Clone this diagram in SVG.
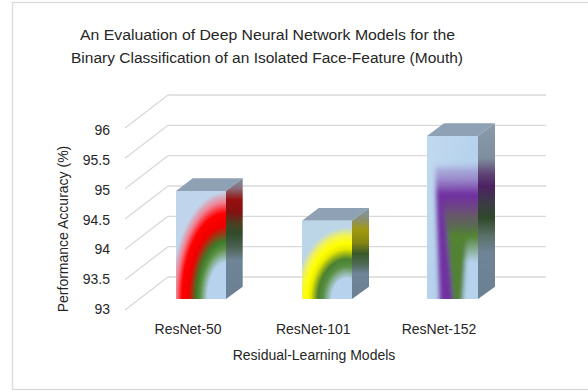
<svg xmlns="http://www.w3.org/2000/svg" width="588" height="391" viewBox="0 0 588 391">
<defs>
<style>
text{font-family:"Liberation Sans",Arial,sans-serif;fill:#262626}
.tick{font-size:14px;text-anchor:end}
.cat{font-size:14px;text-anchor:middle}
.grid line{stroke:#d9d9d9;stroke-width:1.3}
.top{fill:#8fa2b5}
</style>
<linearGradient id="frontBase" x1="0" y1="0" x2="1" y2="1">
<stop offset="0" stop-color="#c2daf0"/><stop offset="0.5" stop-color="#b6d2ec"/><stop offset="1" stop-color="#b3cfe9"/>
</linearGradient>
<radialGradient id="g1" gradientUnits="userSpaceOnUse" cx="226" cy="299" r="55" gradientTransform="translate(226 299) scale(1 1.95) translate(-226 -299)">
<stop offset="0" stop-color="#b6d2ec"/><stop offset="0.34" stop-color="#b6d2ec"/>
<stop offset="0.47" stop-color="#5a9040"/><stop offset="0.54" stop-color="#3d7a2a"/>
<stop offset="0.68" stop-color="#f00000"/><stop offset="0.8" stop-color="#ff0000"/>
<stop offset="0.9" stop-color="#f08090"/>
<stop offset="1.0" stop-color="#c0d4ec"/>
</radialGradient>
<radialGradient id="g2" gradientUnits="userSpaceOnUse" cx="347" cy="300" r="52" gradientTransform="translate(347 300) scale(1 1.4) translate(-347 -300)">
<stop offset="0" stop-color="#b6d2ec"/><stop offset="0.3" stop-color="#b6d2ec"/>
<stop offset="0.46" stop-color="#5a9045"/><stop offset="0.56" stop-color="#4a8030"/>
<stop offset="0.7" stop-color="#e8ea00"/><stop offset="0.78" stop-color="#ffff00"/>
<stop offset="0.88" stop-color="#f4f450"/>
<stop offset="1" stop-color="#bcd6e8"/>
</radialGradient>
<linearGradient id="s1" gradientUnits="userSpaceOnUse" x1="0" y1="178" x2="0" y2="299">
<stop offset="0" stop-color="#7f92a4"/><stop offset="0.08" stop-color="#86727e"/>
<stop offset="0.18" stop-color="#981010"/><stop offset="0.28" stop-color="#851010"/>
<stop offset="0.38" stop-color="#4a4020"/><stop offset="0.46" stop-color="#304c2a"/>
<stop offset="0.57" stop-color="#4a6250"/><stop offset="0.68" stop-color="#6f8597"/>
<stop offset="1" stop-color="#6b8193"/>
</linearGradient>
<linearGradient id="s2" gradientUnits="userSpaceOnUse" x1="0" y1="208" x2="0" y2="299">
<stop offset="0" stop-color="#8196a8"/><stop offset="0.12" stop-color="#8a8f74"/>
<stop offset="0.24" stop-color="#a09a10"/><stop offset="0.38" stop-color="#858510"/>
<stop offset="0.5" stop-color="#3a5a2a"/><stop offset="0.62" stop-color="#4e6a56"/>
<stop offset="0.72" stop-color="#6f8597"/><stop offset="1" stop-color="#6b8193"/>
</linearGradient>
<linearGradient id="s3" gradientUnits="userSpaceOnUse" x1="0" y1="123" x2="0" y2="299">
<stop offset="0" stop-color="#8a9bab"/><stop offset="0.2" stop-color="#7f8e9e"/>
<stop offset="0.29" stop-color="#5e4274"/><stop offset="0.36" stop-color="#4c2262"/>
<stop offset="0.45" stop-color="#3c3a48"/><stop offset="0.54" stop-color="#30482a"/>
<stop offset="0.64" stop-color="#5a7068"/><stop offset="0.74" stop-color="#6f8597"/>
<stop offset="1" stop-color="#6b8193"/>
</linearGradient>
<linearGradient id="p3" gradientUnits="userSpaceOnUse" x1="0" y1="164" x2="0" y2="194">
<stop offset="0" stop-color="#7030a0" stop-opacity="0"/><stop offset="0.4" stop-color="#9070c0" stop-opacity="0.6"/><stop offset="1" stop-color="#7030a0"/>
</linearGradient>
<linearGradient id="m3" gradientUnits="userSpaceOnUse" x1="0" y1="196" x2="0" y2="232">
<stop offset="0" stop-color="#6a5570" stop-opacity="0"/><stop offset="0.5" stop-color="#6a5a68" stop-opacity="0.85"/><stop offset="1" stop-color="#5a7040" stop-opacity="0"/>
</linearGradient>
<linearGradient id="gr3" gradientUnits="userSpaceOnUse" x1="0" y1="212" x2="0" y2="234">
<stop offset="0" stop-color="#528232" stop-opacity="0"/><stop offset="1" stop-color="#528232"/>
</linearGradient>
<linearGradient id="lb3" gradientUnits="userSpaceOnUse" x1="0" y1="236" x2="0" y2="262">
<stop offset="0" stop-color="#b6d2ec" stop-opacity="0"/><stop offset="1" stop-color="#b6d2ec"/>
</linearGradient>
<clipPath id="c3"><rect x="427" y="136" width="51" height="163"/></clipPath>
<filter id="soft3" x="-20%" y="-20%" width="140%" height="140%">
<feGaussianBlur stdDeviation="2"/>
</filter>
</defs>
<rect x="0" y="0" width="588" height="391" fill="#ffffff"/>
<rect x="12.5" y="2.5" width="600" height="387" fill="#ffffff" stroke="#d9d9d9" stroke-width="1.3"/>
<g id="title">
<text x="267.5" y="40" font-size="15.5" text-anchor="middle" textLength="375" lengthAdjust="spacingAndGlyphs">An Evaluation of Deep Neural Network Models for the</text>
<text x="267" y="63" font-size="15.5" text-anchor="middle" textLength="392" lengthAdjust="spacingAndGlyphs">Binary Classification of an Isolated Face-Feature (Mouth)</text>
</g>
<g id="connectors" class="grid">
<line x1="168" y1="95" x2="546" y2="95"/>
<line x1="168" y1="125.3" x2="546" y2="125.3"/>
<line x1="168" y1="155.7" x2="546" y2="155.7"/>
<line x1="168" y1="186" x2="546" y2="186"/>
<line x1="168" y1="216.3" x2="546" y2="216.3"/>
<line x1="168" y1="246.7" x2="546" y2="246.7"/>
<line x1="168" y1="277" x2="546" y2="277"/>
<line x1="125" y1="128" x2="168" y2="95"/>
<line x1="125" y1="158.3" x2="168" y2="125.3"/>
<line x1="125" y1="188.7" x2="168" y2="155.7"/>
<line x1="125" y1="219" x2="168" y2="186"/>
<line x1="125" y1="249.3" x2="168" y2="216.3"/>
<line x1="125" y1="279.7" x2="168" y2="246.7"/>
<line x1="125" y1="310" x2="168" y2="277"/>
</g>
<g id="y-axis">
<text class="tick" x="110" y="135">96</text>
<text class="tick" x="110" y="164.8">95.5</text>
<text class="tick" x="110" y="194.7">95</text>
<text class="tick" x="110" y="224.5">94.5</text>
<text class="tick" x="110" y="254.3">94</text>
<text class="tick" x="110" y="284.2">93.5</text>
<text class="tick" x="110" y="314">93</text>
<text class="cat" transform="translate(68 229) rotate(-90)">Performance Accuracy (%)</text>
</g>
<g id="bar-resnet50">
<polygon class="top" points="176,191 192.7,178.3 242.7,178.3 226,191"/>
<polygon points="226,191 242.7,178.3 242.7,286.7 226,299" fill="url(#s1)"/>
<rect x="176" y="191" width="50" height="108" fill="url(#frontBase)"/>
<rect x="176" y="191" width="50" height="108" fill="url(#g1)"/>
</g>
<g id="bar-resnet101">
<polygon class="top" points="302,220.7 318.7,208 369,208 352,220.7"/>
<polygon points="352,220.7 369,208 369,286.7 352,299" fill="url(#s2)"/>
<rect x="302" y="220.7" width="50" height="78.3" fill="url(#g2)"/>
</g>
<g id="bar-resnet152">
<polygon class="top" points="427,136 444,123.3 495,123.3 478,136" fill="#93a5b6"/>
<polygon points="478,136 495,123.3 495,286.7 478,299" fill="url(#s3)"/>
<g clip-path="url(#c3)">
<rect x="427" y="136" width="51" height="163" fill="url(#frontBase)"/>
<g filter="url(#soft3)">
<polygon points="435,160 490,160 490,310 440,310" fill="url(#p3)"/>
<polygon points="443,194 490,194 490,310 451,310" fill="url(#m3)"/>
<polygon points="445,210 490,210 490,310 454,310" fill="url(#gr3)"/>
<polygon points="467,234 490,234 490,310 462,310" fill="url(#lb3)"/>
</g>
</g>
</g>
<g id="x-axis">
<text class="cat" x="188" y="334">ResNet-50</text>
<text class="cat" x="313.3" y="334">ResNet-101</text>
<text class="cat" x="439" y="334">ResNet-152</text>
<text class="cat" x="314" y="360">Residual-Learning Models</text>
</g>
</svg>
